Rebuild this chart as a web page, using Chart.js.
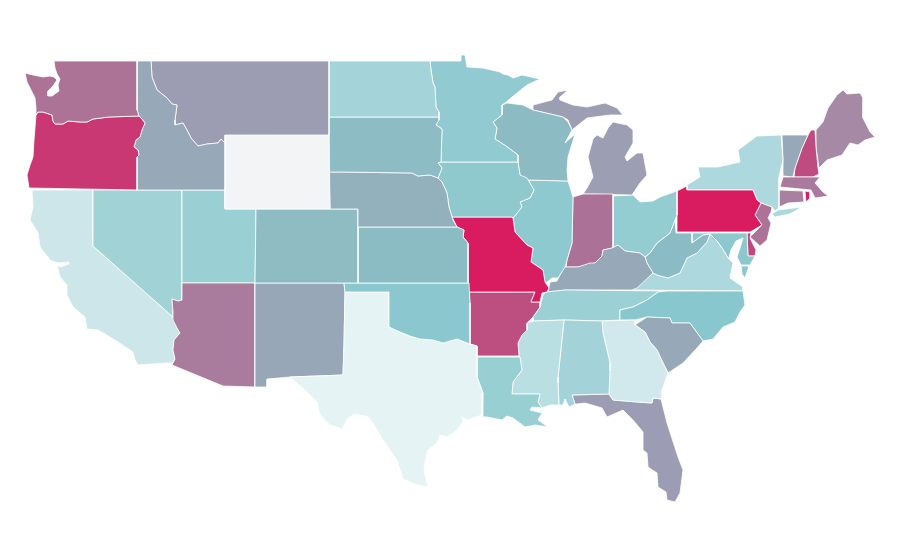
<!DOCTYPE html>
<html><head><meta charset="utf-8">
<style>html,body{margin:0;padding:0;background:#fff}canvas{display:block}</style>
<script src="https://cdn.jsdelivr.net/npm/chart.js@4"></script>
</head><body><canvas id="c" width="900" height="560"></canvas>
<script>
// State outlines, in map units (x, y pairs)
const WA=[54,61,137,61,137,110,139,116,109,117,93,119,87,122,80,122,68,121,63,124,55,124,53,121,52,115,43,112,38,112,36,115,36,108,35,98,31,90,27,82,25,73,33,75,43,77,50,76,54,77,57,80,53,86,48,91,48,96,52,96,59,91,58,85,60,79,57,74,55,68];
const OR=[36,115,38,112,43,112,52,115,53,121,55,124,63,124,68,121,80,122,87,122,93,119,109,117,139,116,141,118,145,123,142,130,140,137,136,140,134,147,138,150,139,155,137,157,137,190,29,188,27,175,30,165,33,157,34,140];
const ID=[137,61,151,61,152,77,157,90,167,98,172,104,177,105,175,120,175,125,183,123,187,130,191,138,198,146,207,144,218,143,221,139,225,143,225,190,137,190,137,157,139,155,138,150,134,147,136,140,140,137,142,130,145,123,141,118,139,116,137,110];
const MT=[151,61,329,61,329,135,225,135,225,143,221,139,218,143,207,144,198,146,191,138,187,130,183,123,175,125,175,120,177,105,172,104,167,98,157,90,152,77];
const WY=[225,135,329,134,330,209,225,209];
const ND=[329,61,430,61,431,70,433,83,435,87,436,107,439,112,439,117,329,117];
const SD=[329,117,439,117,439,120,436,125,442,129,441,162,438,163,442,168,438,178,430,175,418,176,412,173,343,172,329,172];
const NE=[329,172,343,172,412,173,418,176,430,175,438,178,442,182,447,193,449,207,453,220,457,227,358,227,358,209,330,209];
const CO=[256,209,358,209,358,283,255,283];
const KS=[358,227,457,227,464,230,463,237,468,243,468,283,358,283];
const OK=[344,283,469,283,470,303,470,344,457,339,443,343,433,340,420,339,410,336,400,332,389,327,389,292,345,292];
const TX=[345,292,389,292,389,327,400,332,410,336,420,339,433,340,443,343,457,339,470,344,477,346,477,377,483,393,482,415,467,420,462,417,463,422,457,430,447,437,440,435,437,443,428,450,425,462,424,470,428,487,417,485,403,479,397,460,383,440,373,423,368,417,355,414,348,418,342,429,330,425,320,415,317,402,307,392,297,383,290,377,343,375,344,343];
const NM=[255,283,344,283,345,292,344,343,343,375,290,377,267,379,267,387,255,387];
const AZ=[182,283,255,283,255,387,223,386,172,365,175,359,173,350,174,340,180,333,177,328,173,320,173,312,172,299,178,301,182,300];
const UT=[182,190,225,190,225,209,256,209,255,283,182,283];
const NV=[93,190,182,190,182,300,178,301,172,299,173,317,93,246];
const CA=[32,190,93,190,93,246,173,317,177,328,180,333,174,340,173,350,175,359,172,363,167,363,138,365,135,360,133,352,118,342,103,333,98,330,87,329,85,317,73,307,67,295,67,285,60,277,57,265,60,267,69,264,69,262,58,263,50,260,40,247,38,233,30,220,33,207];
const MN=[430,61,461,61,461,55,465,55,467,67,483,68,500,72,503,74,508,75,513,78,522,75,540,79,527,85,517,93,505,103,502,105,502,115,493,122,497,128,495,139,506,146,518,155,518,162,441,162,442,129,436,125,439,117,439,112,436,107,435,87,433,83,431,70];
const IA=[441,162,518,162,520,175,527,178,534,190,530,198,520,202,522,207,513,218,512,217,452,217,449,207,447,193,442,182,438,178,442,168,438,163];
const MO=[452,217,512,217,513,218,515,232,527,245,533,248,531,262,543,270,545,282,549,288,547,292,542,293,540,302,531,302,535,292,468,292,468,243,463,237,464,230,457,227];
const AR=[469,292,535,292,531,302,540,302,540,307,533,317,527,323,527,330,522,335,518,343,519,356,477,356,477,346,470,344,470,303];
const LA=[477,357,520,357,522,370,513,382,512,394,540,394,538,402,542,408,532,407,530,410,542,413,538,420,548,427,535,425,525,427,513,418,507,416,502,420,487,417,482,417,483,393,477,377];
const MS=[534,321,564,320,558,377,558,383,559,405,550,405,542,408,538,402,540,394,512,394,513,382,522,370,520,357,519,356,518,343,522,335,527,330,527,323];
const AL=[564,320,602,321,603,333,610,363,610,371,609,394,572,395,575,404,569,407,565,399,563,405,559,405,558,383,558,377];
const GA=[602,321,635,320,635,325,645,332,650,342,657,350,663,363,668,373,662,390,662,399,653,398,652,403,637,402,613,400,609,394,610,371,610,363,603,333];
const FL=[572,395,609,394,613,400,637,402,652,403,653,398,661,399,667,423,678,457,683,470,680,493,675,502,667,500,666,492,658,487,657,473,648,467,647,453,643,450,643,432,633,420,623,410,607,417,602,408,585,403,577,404,575,404];
const SC=[635,325,647,317,670,318,672,323,690,323,703,341,697,348,683,363,668,373,663,363,657,350,650,342,645,332];
const NC=[620,320,620,310,633,307,647,300,658,292,667,291,743,291,745,305,740,312,735,322,723,327,713,339,703,341,690,323,672,323,670,318,647,317,635,320];
const TN=[543,295,546,292,565,290,667,291,658,292,647,300,633,307,620,310,620,320,602,321,564,320,534,321,533,317,540,307];
const KY=[548,292,550,282,557,281,560,275,565,267,578,267,590,263,595,263,602,256,603,250,612,248,618,245,625,251,640,253,645,257,647,263,653,273,637,288,632,290,566,290];
const WI=[502,105,507,103,523,105,533,110,563,117,568,122,572,130,565,143,575,134,568,157,567,170,568,181,527,180,520,175,518,162,518,155,506,146,495,139,497,128,493,122,502,115];
const IL=[527,180,568,181,573,197,572,243,567,260,565,268,558,278,552,278,545,284,543,270,531,262,533,248,527,245,515,232,513,218,522,207,520,202,530,198,534,190,527,178];
const IN=[573,197,583,194,613,194,613,248,603,250,602,256,595,263,578,267,566,267,567,260,572,243];
const MI_LOWER=[583,194,632,195,640,183,647,175,643,153,637,153,627,161,625,157,633,143,633,130,627,125,613,122,608,128,603,138,597,135,593,139,588,157,593,177,587,188];
const MI_UPPER=[533,105,552,100,558,92,568,90,560,97,560,100,573,105,587,107,605,103,617,108,623,115,610,115,587,118,572,130,568,120,563,117,533,110];
const OH=[613,196,633,195,640,202,653,201,660,197,677,191,677,215,675,220,670,233,657,243,650,253,645,257,640,253,625,251,618,245,613,248];
const WV=[645,257,650,253,657,243,670,233,675,220,676,233,692,233,692,243,703,235,710,234,707,242,697,253,687,258,680,273,668,278,657,275,653,273,647,263];
const VA=[632,290,653,273,657,275,668,278,680,273,687,258,697,253,707,242,710,234,717,241,722,248,728,258,733,263,730,278,743,287,743,291];
const VA_TIP=[741,266,749,266,745,278,742,274];
const MD=[692,233,747,233,748,256,755,256,750,265,741,265,737,257,741,245,743,238,736,241,731,250,729,258,734,264,728,258,722,248,717,241,710,234,703,235,692,243];
const DE=[747,233,751,233,750,238,756,250,755,256,748,256];
const PA=[677,191,687,186,687,190,753,190,757,200,761,203,755,215,762,225,757,228,750,232,677,232];
const NJ=[761,203,772,207,771,212,768,218,771,223,767,240,760,246,750,237,762,225,755,215];
const NY=[687,190,687,185,700,177,698,167,718,167,740,162,738,150,757,136,781,135,783,160,779,177,779,208,775,211,772,207,761,203,757,200,753,190];
const NY_LI=[772,214,778,210,802,207,790,214,775,217];
const CT=[779,190,803,191,804,202,788,203,777,208];
const RI=[805,191,810,192,810,198,806,202];
const MA=[780,187,783,177,813,177,820,177,815,183,823,192,828,196,822,197,815,198,811,190];
const VT=[782,135,808,135,802,148,795,168,793,177,783,176,783,160];
const NH=[808,135,811,130,815,130,816,147,818,168,819,174,813,177,794,177,795,168,802,148];
const ME=[816,130,823,122,828,108,837,95,843,90,847,94,860,93,863,98,863,118,870,132,875,137,865,140,858,145,850,143,842,155,827,160,819,168,816,147];

const shapes=[WA,OR,ID,MT,WY,ND,SD,NE,CO,KS,OK,TX,NM,AZ,UT,NV,CA,MN,IA,MO,AR,LA,MS,AL,GA,FL,SC,NC,TN,KY,WI,IL,IN,MI_LOWER,MI_UPPER,OH,WV,VA,VA_TIP,MD,DE,PA,NJ,NY,NY_LI,CT,RI,MA,VT,NH,ME];
const names=['WA','OR','ID','MT','WY','ND','SD','NE','CO','KS','OK','TX','NM','AZ','UT','NV','CA','MN','IA','MO','AR','LA','MS','AL','GA','FL','SC','NC','TN','KY','WI','IL','IN','MI','MI','OH','WV','VA','VA','MD','DE','PA','NJ','NY','NY','CT','RI','MA','VT','NH','ME'];
const colors=['#AD7397','#CA3873','#97A8B8','#9C9DB3','#F3F4F6','#A4D4D9','#8DBCC5','#92B1BC','#8FBBC3','#8BBCC4','#8AC7CE','#E5F3F5','#97A7B8','#A97C9E','#9AD0D3','#A1D2D6','#CDE6EA','#91CBD1','#8FC9CE','#D91B5F','#BC4E80','#98CFD3','#B9DFE3','#A3D3D8','#D1E9EC','#9C9DB4','#97A9B9','#88C7CE','#9BD1D5','#97A8B8','#8CBBC4','#8DC9CE','#AC7196','#9C9EB4','#9C9EB4','#93CCD1','#8BBBC4','#ADD8DD','#8CC8CE','#8CC8CE','#C0467E','#D91B5F','#AD7298','#ADD8DD','#ADD8DD','#A9809F','#D91B5F','#A9799E','#97A8B8','#BF4C81','#A689A5'];

const toPoints=a=>{const p=[];for(let i=0;i<a.length;i+=2)p.push({x:a[i],y:a[i+1]});p.push({x:a[0],y:a[1]});return p;};
new Chart(document.getElementById('c'),{
  type:'scatter',
  data:{datasets:shapes.map((s,i)=>({label:names[i],data:toPoints(s),showLine:true,fill:'shape',tension:0,
    backgroundColor:colors[i],borderColor:'#ffffff',borderWidth:0.8,pointRadius:0,pointHoverRadius:0}))},
  options:{responsive:false,animation:false,devicePixelRatio:1,
    layout:{padding:0},
    plugins:{legend:{display:false},tooltip:{enabled:false},title:{display:false}},
    scales:{x:{type:'linear',min:0,max:900,display:false},y:{type:'linear',min:0,max:560,reverse:true,display:false}}}
});
</script></body></html>
